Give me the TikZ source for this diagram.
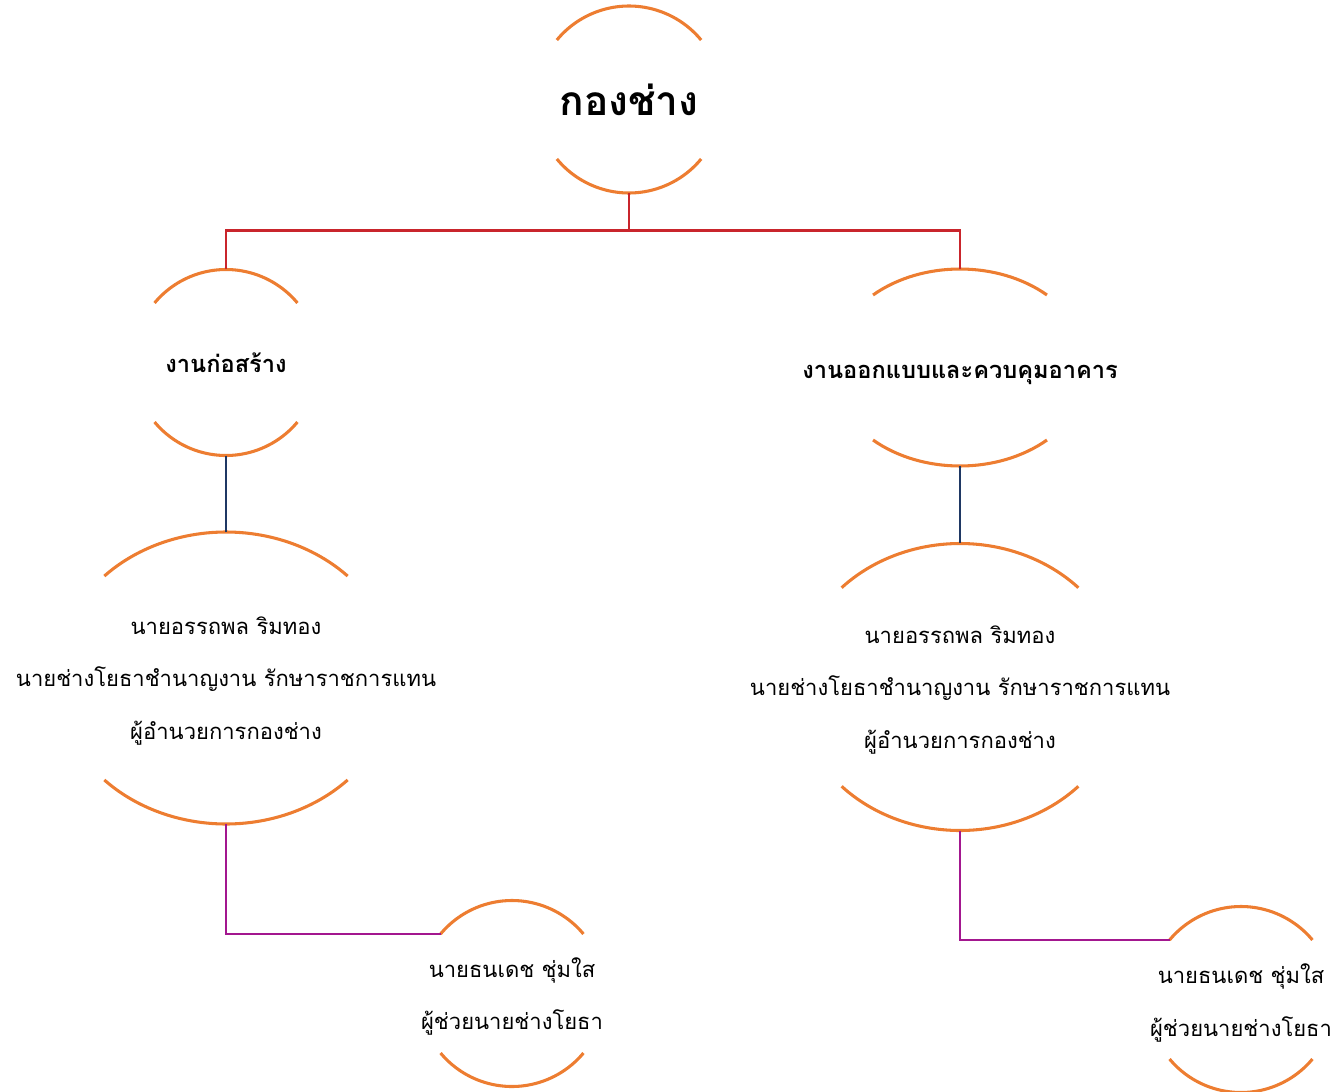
\documentclass[tikz,border=0pt]{standalone}
\usepackage{fontspec}
\newfontfamily\thaifont[Script=Thai]{Loma}
\definecolor{arcorange}{HTML}{ED7D31}
\definecolor{linkred}{HTML}{C9252C}
\definecolor{linknavy}{HTML}{1F3864}
\definecolor{linkpurple}{HTML}{A3178F}
\tikzset{
  unit/.style={rectangle, draw=none, inner sep=0pt},
  label text/.style={inner sep=0pt, align=center, text=black},
  arcline/.style={draw=arcorange, line width=2.3pt},
  redlink/.style={draw=linkred, line width=2.2pt},
  navylink/.style={draw=linknavy, line width=2.2pt},
  purplelink/.style={draw=linkpurple, line width=2.2pt},
  titlefont/.style={font=\thaifont\bfseries\fontsize{30.5}{36}\selectfont},
  headfont/.style={font=\thaifont\bfseries\fontsize{17.7}{24}\selectfont},
  bodyfont/.style={font=\thaifont\fontsize{16.5}{39.4}\selectfont},
}
% name, x, y, a, b, t, style, text, text offset
\newcommand\orgunit[9]{%
  \node[unit, minimum width={2*#4*0.75pt}, minimum height={2*#5*0.75pt}] (#1) at (#2,#3) {};
  \node[label text, #7] (#1-text) at ($(#1.center)+(0,#9)$) {#8};
  \coordinate (#1-tl) at ($(#1.center)+({180+#6}:{#4} and {#5})$);
  \coordinate (#1-bl) at ($(#1.center)+({180-#6}:{#4} and {#5})$);
  \draw[arcline] (#1-tl) arc[start angle={180+#6}, end angle={360-#6}, x radius=#4, y radius=#5];
  \draw[arcline] (#1-bl) arc[start angle={180-#6}, end angle={#6}, x radius=#4, y radius=#5];
}
\usetikzlibrary{calc}
\begin{document}
\begin{tikzpicture}[x=0.75pt,y=-0.75pt]
\useasboundingbox (0,0) rectangle (1339,1092);
\orgunit{n1}{629}{99.5}{93.5}{93.5}{39.5}{titlefont}{กองช่าง}{0}
\orgunit{n2}{226}{362.5}{93}{93}{39.8}{headfont}{งานก่อสร้าง}{0}
\orgunit{n3}{960}{367.5}{128.5}{98.5}{47.4}{headfont}{งานออกแบบและควบคุมอาคาร}{7}
\orgunit{n4}{226}{678}{170}{146}{44.3}{bodyfont}{นายอรรถพล ริมทอง\\นายช่างโยธาชำนาญงาน รักษาราชการแทน\\ผู้อำนวยการกองช่าง}{3}
\orgunit{n5}{960}{687}{164}{143.5}{43.8}{bodyfont}{นายอรรถพล ริมทอง\\นายช่างโยธาชำนาญงาน รักษาราชการแทน\\ผู้อำนวยการกองช่าง}{3}
\orgunit{n6}{512}{993.5}{93}{93}{39.8}{bodyfont}{นายธนเดช ชุ่มใส\\ผู้ช่วยนายช่างโยธา}{3}
\orgunit{n7}{1241}{999.5}{93}{93}{39.8}{bodyfont}{นายธนเดช ชุ่มใส\\ผู้ช่วยนายช่างโยธา}{3.5}
\draw[redlink] (n1.south) -- ++(0,37.5) -| (n2.north);
\draw[redlink] (n1.south) -- ++(0,37.5) -| (n3.north);
\draw[navylink] (n2.south) -- (n4.north);
\draw[navylink] (n3.south) -- (n5.north);
\draw[purplelink] (n4.south) |- (n6-tl);
\draw[purplelink] (n5.south) |- (n7-tl);
\end{tikzpicture}
\end{document}
